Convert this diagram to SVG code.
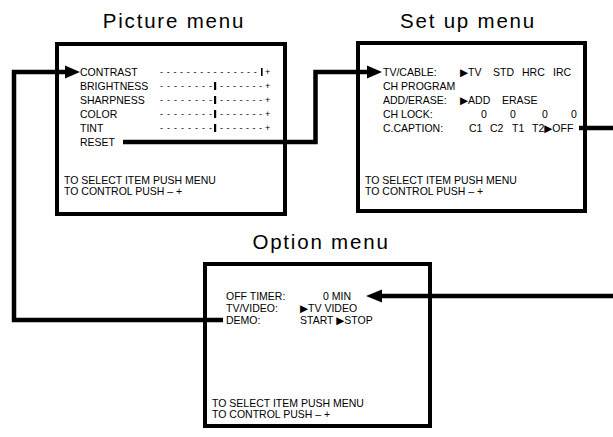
<svg xmlns="http://www.w3.org/2000/svg" width="613" height="437" viewBox="0 0 613 437">
<style>
.title{font-family:"Liberation Sans","Arial",sans-serif;font-size:20.5px;letter-spacing:1.8px;fill:#000;text-anchor:middle}
.t{font-family:"Liberation Sans","DejaVu Sans",sans-serif;font-size:10.5px;fill:#000}
.dot{font-family:"Liberation Sans",sans-serif;font-size:9px;fill:#000}
.box{fill:#fff;stroke:#000;stroke-width:4}
.wire{fill:none;stroke:#000;stroke-width:4.5;stroke-linejoin:miter}
.head{fill:#000}
</style>
<rect width="613" height="437" fill="#fff"/>

<g id="picture-menu">
<text class="title" x="174" y="28">Picture menu</text>
<rect class="box" x="57" y="44" width="228" height="170"/>
<text class="t" x="80" y="76">CONTRAST</text>
<text class="t" x="80" y="90">BRIGHTNESS</text>
<text class="t" x="80" y="104">SHARPNESS</text>
<text class="t" x="80" y="118">COLOR</text>
<text class="t" x="80" y="132">TINT</text>
<text class="t" x="80" y="146">RESET</text>
<text class="dot" x="160 166.7 173.4 180.1 186.8 193.5 200.2 206.9 213.6 220.3 227 233.7 240.4 247.1 253.8 265" y="75">---------------+</text>
<rect x="261" y="68" width="1.6" height="8"/>
<text class="dot" x="160 167 174 181 188 195 202 209 220 226.5 233 239.5 246 252.5 259 265" y="89">---------------+</text>
<rect x="214" y="82" width="2.2" height="8"/>
<text class="dot" x="160 167 174 181 188 195 202 209 220 226.5 233 239.5 246 252.5 259 265" y="103">---------------+</text>
<rect x="214" y="96" width="2.2" height="8"/>
<text class="dot" x="160 167 174 181 188 195 202 209 220 226.5 233 239.5 246 252.5 259 265" y="117">---------------+</text>
<rect x="214" y="110" width="2.2" height="8"/>
<text class="dot" x="160 167 174 181 188 195 202 209 220 226.5 233 239.5 246 252.5 259 265" y="131">---------------+</text>
<rect x="214" y="124" width="2.2" height="8"/>
<text class="t" x="64" y="184">TO SELECT ITEM PUSH MENU</text>
<text class="t" x="64" y="195">TO CONTROL PUSH – +</text>
</g>

<g id="setup-menu">
<text class="title" x="468" y="28">Set up menu</text>
<rect class="box" x="358" y="43" width="227" height="168"/>
<text class="t" y="76"><tspan x="383">TV/CABLE:</tspan><tspan x="460">▶TV</tspan><tspan x="493">STD</tspan><tspan x="522">HRC</tspan><tspan x="553">IRC</tspan></text>
<text class="t" x="383" y="90">CH PROGRAM</text>
<text class="t" y="104"><tspan x="383">ADD/ERASE:</tspan><tspan x="460">▶ADD</tspan><tspan x="502">ERASE</tspan></text>
<text class="t" y="118"><tspan x="383">CH LOCK:</tspan><tspan x="481">0</tspan><tspan x="510">0</tspan><tspan x="542">0</tspan><tspan x="571">0</tspan></text>
<text class="t" y="132"><tspan x="383">C.CAPTION:</tspan><tspan x="469">C1</tspan><tspan x="490">C2</tspan><tspan x="512">T1</tspan><tspan x="532">T2▶OFF</tspan></text>
<text class="t" x="365" y="184">TO SELECT ITEM PUSH MENU</text>
<text class="t" x="365" y="195">TO CONTROL PUSH – +</text>
</g>

<g id="option-menu">
<text class="title" x="321" y="249">Option menu</text>
<rect class="box" x="205" y="264" width="225" height="162"/>
<text class="t" y="300"><tspan x="226">OFF TIMER:</tspan><tspan x="323">0 MIN</tspan></text>
<text class="t" y="312"><tspan x="226">TV/VIDEO:</tspan><tspan x="300">▶TV  VIDEO</tspan></text>
<text class="t" y="324"><tspan x="226">DEMO:</tspan><tspan x="300">START ▶STOP</tspan></text>
<text class="t" x="212" y="407">TO SELECT ITEM PUSH MENU</text>
<text class="t" x="212" y="418">TO CONTROL PUSH – +</text>
</g>

<g id="connectors">
<path class="wire" d="M223 320 H14 V72 H68"/>
<polygon class="head" points="80,72 65,65.5 65,78.5"/>
<path class="wire" d="M123 142 H315.5 V72 H370"/>
<polygon class="head" points="382,72 367,65.5 367,78.5"/>
<path class="wire" d="M579 128 H613"/>
<path class="wire" d="M613 296 H380"/>
<polygon class="head" points="366,296 382,289.5 382,302.5"/>
</g>
</svg>
